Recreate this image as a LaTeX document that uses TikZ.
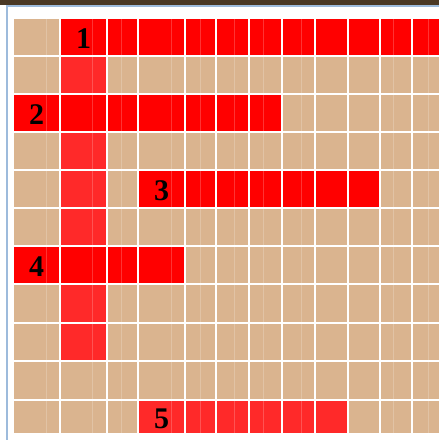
\documentclass[tikz,border=0pt]{standalone}
\usepackage{fontspec}
\setmainfont{Liberation Serif}
\usepackage{xcolor}
\definecolor{celltan}{HTML}{DAB48F}
\definecolor{wordred}{HTML}{FF0000}
\definecolor{downred}{HTML}{FF2929}
\definecolor{frameblue}{HTML}{9DBBDC}
\definecolor{barbrown}{HTML}{4A3824}

\begin{document}
\begin{tikzpicture}[x=1pt,y=-1pt,line cap=butt,
  clue/.style={font=\fontsize{30}{30}\selectfont\bfseries,inner sep=0pt}]
  \useasboundingbox (0,0) rectangle (439,440);
  \fill[white] (0,0) rectangle (439,440);
  % window bar and frame
  \fill[barbrown] (0,0) rectangle (439,5);
  \draw[frameblue,line width=2pt] (7,440) -- (7,6) -- (439,6);
  % board
  \fill[celltan] (14,19) rectangle (439,433);
  % down word
  \fill[downred] (61,19) rectangle (106,360);
  % across words
  \fill[wordred] (61,19) rectangle (439,55);
  \fill[wordred] (14,95) rectangle (281,131);
  \fill[wordred] (139,171) rectangle (379,207);
  \fill[wordred] (14,247) rectangle (184,283);
  \fill[downred] (139,401) rectangle (347,433);
  % faint stripes inside the cells
  \foreach \sx in {46,92,121,171,200,234,263,301,393,428}
    \draw[white,opacity=.2,line width=1pt] (\sx,19) -- (\sx,433);
  % white gaps between cells
  \foreach \gx in {60,107,138,185,216,249,282,315,348,380,412}
    \draw[white,line width=2pt] (\gx,19) -- (\gx,433);
  \foreach \gy in {56,94,132,170,208,246,284,322.5,361,400}
    \draw[white,line width=2pt] (14,\gy) -- (439,\gy);
  % clue numbers
  \node[clue] (c1) at (83.5,38.5) {1};
  \node[clue] (c2) at (36.5,114.5) {2};
  \node[clue] (c3) at (161.5,190.5) {3};
  \node[clue] (c4) at (36.5,266.5) {4};
  \node[clue] (c5) at (161.5,418.5) {5};
\end{tikzpicture}
\end{document}
